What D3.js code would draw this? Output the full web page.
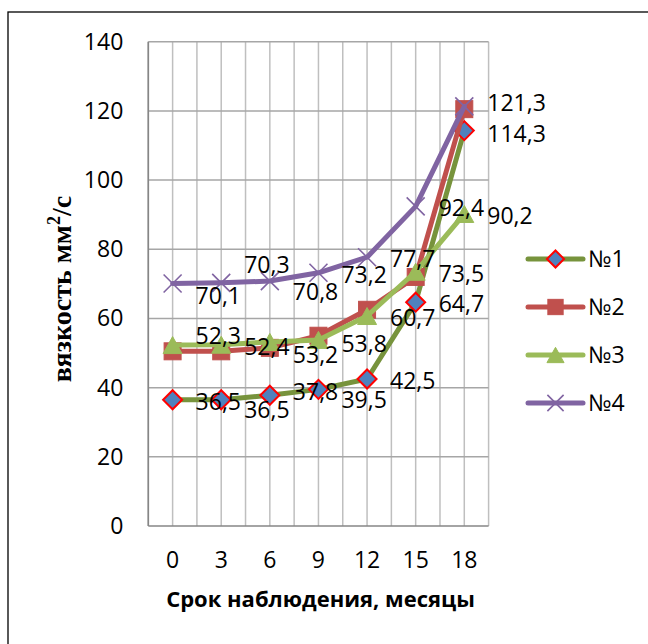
<!DOCTYPE html>
<html>
<head>
<meta charset="utf-8">
<script src="https://cdn.jsdelivr.net/npm/d3@7"></script>
<style>
  body { margin: 0; background: #fff; }
  svg { display: block; }
</style>
</head>
<body>
<svg id="chart" width="648" height="644"></svg>
<script>
// Observation months (x categories)
const months = [0, 3, 6, 9, 12, 15, 18];
// Kinematic viscosity, mm²/s, for each sample
const visc1 = [36.5, 36.5, 37.8, 39.5, 42.5, 64.7, 114.3];
const visc2 = [50.5, 50.5, 51.5, 55.0, 62.5, 72.0, 120.5];
const visc3 = [52.3, 52.4, 53.2, 53.8, 60.7, 73.5, 90.2];
const visc4 = [70.1, 70.3, 70.8, 73.2, 77.7, 92.4, 121.3];
const seriesNames = ["№1", "№2", "№3", "№4"];
const yTicks = [0, 20, 40, 60, 80, 100, 120, 140];

// Small vertical shifts (px) that keep neighbouring value labels apart
const labelShift1 = [0, 8, -5, 9, 0, 0, 1];
const labelShift3 = [-11, 0, 11, 2, 0, 0, 0];
const labelShift4 = [10, -20, 9, 0, 0, 0, -5];

const series = [
  { name: seriesNames[0], values: visc1, line: "#77933C", marker: "diamond", fill: "#4F81BD", stroke: "#FF0000", labels: true, shift: labelShift1 },
  { name: seriesNames[1], values: visc2, line: "#C0504D", marker: "square", fill: "#C0504D", stroke: "#C0504D", labels: false, shift: null },
  { name: seriesNames[2], values: visc3, line: "#9BBB59", marker: "triangle", fill: "#9BBB59", stroke: "#9BBB59", labels: true, shift: labelShift3 },
  { name: seriesNames[3], values: visc4, line: "#8064A2", marker: "cross", fill: "none", stroke: "#8064A2", labels: true, shift: labelShift4 }
];

const FONT = "'Open Sans', 'Noto Sans', sans-serif";
const svg = d3.select("#chart");

// chart area frame
svg.append("rect")
  .attr("x", 8).attr("y", 12).attr("width", 700).attr("height", 700)
  .attr("fill", "none").attr("stroke", "#000").attr("stroke-width", 1.3);

const plot = { left: 148.3, right: 488.6, top: 41.7, bottom: 526 };

const x = d3.scaleBand().domain(months).range([plot.left, plot.right]);
const cx = m => x(m) + x.bandwidth() / 2;
const y = d3.scaleLinear().domain([0, 140]).range([plot.bottom, plot.top]);

// vertical gridlines at category edges and centres
const vLines = [];
months.forEach(m => { vLines.push(x(m)); vLines.push(cx(m)); });
vLines.push(plot.right);
svg.append("g").selectAll("line").data(vLines).join("line")
  .attr("x1", d => d).attr("x2", d => d)
  .attr("y1", plot.top).attr("y2", plot.bottom)
  .attr("stroke", "#BFBFBF").attr("stroke-width", 1.5);

// horizontal gridlines
svg.append("g").selectAll("line").data(yTicks.filter(t => t > 0)).join("line")
  .attr("x1", plot.left).attr("x2", plot.right)
  .attr("y1", d => y(d)).attr("y2", d => y(d))
  .attr("stroke", "#A6A6A6").attr("stroke-width", 1.5);

// axis lines
svg.append("line").attr("x1", plot.left).attr("x2", plot.left)
  .attr("y1", plot.top).attr("y2", plot.bottom)
  .attr("stroke", "#868686").attr("stroke-width", 1.6);
svg.append("line").attr("x1", plot.left).attr("x2", plot.right)
  .attr("y1", plot.bottom).attr("y2", plot.bottom)
  .attr("stroke", "#868686").attr("stroke-width", 1.6);

// y axis tick labels
const yAxis = svg.append("g").attr("transform", `translate(${plot.left},0)`)
  .call(d3.axisLeft(y).tickValues(yTicks).tickSize(0).tickPadding(25));
yAxis.select(".domain").remove();
yAxis.selectAll("text").attr("font-family", FONT).attr("font-size", 23).attr("fill", "#000");

// x axis tick labels
const xAxis = svg.append("g").attr("transform", `translate(0,${plot.bottom})`)
  .call(d3.axisBottom(x).tickSize(0).tickPadding(26));
xAxis.select(".domain").remove();
xAxis.selectAll("text").attr("font-family", FONT).attr("font-size", 23).attr("fill", "#000");

// axis titles
svg.append("text")
  .attr("x", 320.5).attr("y", 607)
  .attr("text-anchor", "middle")
  .attr("font-family", FONT).attr("font-weight", "bold").attr("font-size", 22)
  .text("Срок наблюдения, месяцы");

const yTitle = svg.append("text")
  .attr("transform", "translate(71,289) rotate(-90)")
  .attr("text-anchor", "middle")
  .attr("font-family", "'Liberation Serif', 'DejaVu Serif', serif")
  .attr("font-weight", "bold").attr("font-size", 28);
yTitle.append("tspan").text("вязкость мм");
yTitle.append("tspan").attr("font-size", 18).attr("dy", -11).text("2");
yTitle.append("tspan").attr("dy", 11).text("/с");

// marker drawing
function drawMarker(g, s, scale) {
  const k = scale || 1;
  if (s.marker === "diamond") {
    const r = 9.5 * k;
    g.append("path").attr("d", `M0,${-r}L${r},0L0,${r}L${-r},0Z`)
      .attr("fill", s.fill).attr("stroke", s.stroke).attr("stroke-width", 2);
  } else if (s.marker === "square") {
    const h = 8.5 * k;
    g.append("rect").attr("x", -h).attr("y", -h).attr("width", 2 * h).attr("height", 2 * h)
      .attr("fill", s.fill).attr("stroke", s.stroke).attr("stroke-width", 1);
  } else if (s.marker === "triangle") {
    const w = 9.5 * k, h = 8.5 * k;
    g.append("path").attr("d", `M0,${-h}L${w},${h}L${-w},${h}Z`)
      .attr("fill", s.fill).attr("stroke", s.stroke).attr("stroke-width", 1);
  } else if (s.marker === "cross") {
    const r = 9 * k;
    g.append("path").attr("d", `M${-r},${-r}L${r},${r}M${-r},${r}L${r},${-r}`)
      .attr("fill", "none").attr("stroke", s.stroke).attr("stroke-width", 1.6);
  }
}

const lineGen = d3.line().x(d => cx(d.m)).y(d => y(d.v));

series.forEach(s => {
  const pts = months.map((m, i) => ({ m, v: s.values[i] }));
  const g = svg.append("g");
  g.append("path").datum(pts).attr("d", lineGen)
    .attr("fill", "none").attr("stroke", s.line).attr("stroke-width", 5)
    .attr("stroke-linejoin", "round").attr("stroke-linecap", "round");
  pts.forEach(p => {
    const mg = g.append("g").attr("transform", `translate(${cx(p.m)},${y(p.v)})`);
    drawMarker(mg, s);
  });
});

// value labels, placed to the right of each point
series.filter(s => s.labels).forEach(s => {
  svg.append("g").selectAll("text").data(months.map((m, i) => ({ m, v: s.values[i], sh: s.shift[i] })))
    .join("text")
    .attr("x", d => cx(d.m) + 23)
    .attr("y", d => y(d.v) + 2 + d.sh)
    .attr("dy", "0.35em")
    .attr("font-family", FONT).attr("font-size", 23).attr("fill", "#000")
    .text(d => d.v.toFixed(1).replace(".", ","));
});

// legend
const legend = svg.append("g");
series.forEach((s, i) => {
  const ly = 259 + i * 48;
  const g = legend.append("g").attr("transform", `translate(0,${ly})`);
  g.append("line").attr("x1", 528).attr("x2", 583).attr("y1", 0).attr("y2", 0)
    .attr("stroke", s.line).attr("stroke-width", 5).attr("stroke-linecap", "round");
  const mg = g.append("g").attr("transform", "translate(555.5,0)");
  drawMarker(mg, s, 0.9);
  g.append("text").attr("x", 588).attr("y", 0).attr("dy", "0.35em")
    .attr("font-family", FONT).attr("font-size", 23).attr("fill", "#000")
    .text(s.name);
});
</script>
</body>
</html>
